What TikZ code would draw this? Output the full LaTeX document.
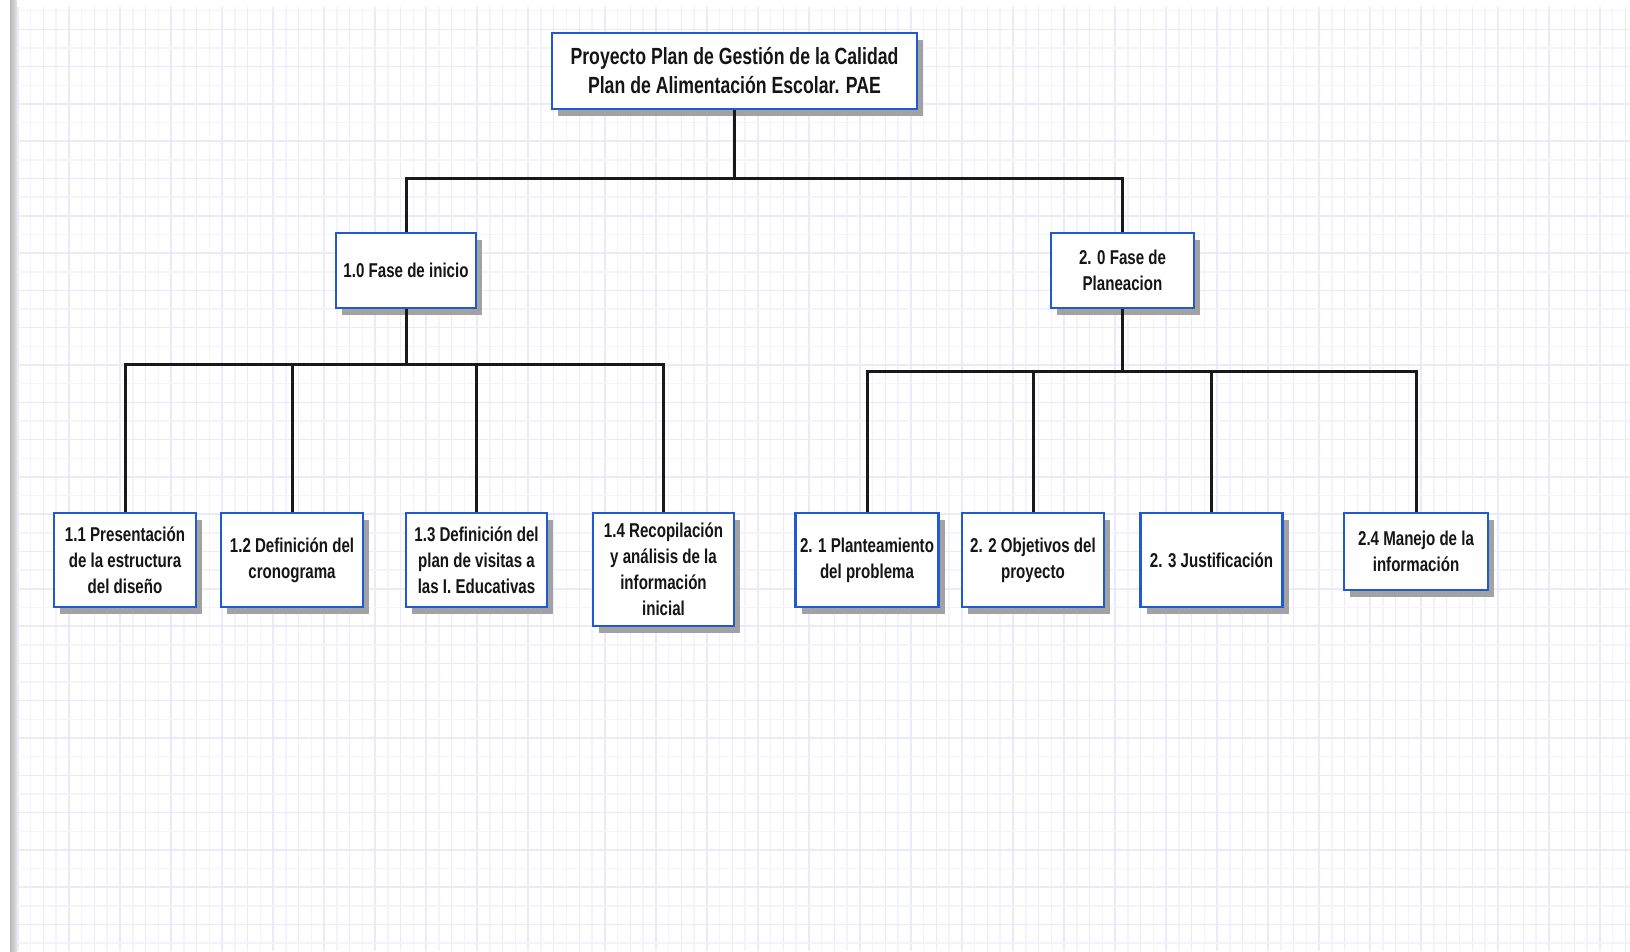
\documentclass[tikz,border=0pt]{standalone}
\usepackage{fontspec}
\usetikzlibrary{shadows}
\newfontfamily\boxfont{Liberation Sans}[FakeStretch=0.755]
\definecolor{gridA}{HTML}{F3F3FE}
\definecolor{gridB}{HTML}{EAEAFB}
\definecolor{boxblue}{HTML}{1F5AD2}
\definecolor{ink}{HTML}{151515}
\definecolor{shade}{HTML}{A2A2A2}
\tikzset{
  wbs/.style={draw=boxblue, line width=2.6pt, fill=white, align=center,
    text=ink, inner sep=2pt,
    drop shadow={shadow xshift=6pt, shadow yshift=-7pt, fill=shade, opacity=1}},
  rootbox/.style={wbs, font=\boxfont\bfseries\fontsize{23.4}{29}\selectfont},
  phasebox/.style={wbs, font=\boxfont\bfseries\fontsize{20}{26}\selectfont},
  leafbox/.style={wbs, font=\boxfont\bfseries\fontsize{20}{26}\selectfont},
  link/.style={draw=black!90, line width=3pt}
}
\begin{document}
\begin{tikzpicture}[x=1pt,y=-1pt]
% page and background grid
\fill[white] (0,0) rectangle (1630,951);
\useasboundingbox (0,0) rectangle (1630,951);
\foreach \k in {-1,...,125}{
  \pgfmathsetmacro{\xx}{30.7+12.757*\k}
  \pgfmathtruncatemacro{\odd}{mod(\k+2,2)}
  \ifnum\odd=1
    \draw[gridB, line width=1.5pt] (\xx,7) -- (\xx,951);
  \else
    \draw[gridA, line width=1.5pt] (\xx,7) -- (\xx,951);
  \fi
}
\foreach \k in {-1,...,49}{
  \pgfmathsetmacro{\yy}{29.3+18.65*\k}
  \pgfmathtruncatemacro{\odd}{mod(\k+2,2)}
  \ifnum\odd=0
    \draw[gridB, line width=1.5pt] (17,\yy) -- (1630,\yy);
  \else
    \draw[gridA, line width=1.5pt] (17,\yy) -- (1630,\yy);
  \fi
}
\shade[left color=black!28, right color=black!10] (10,0) rectangle (17,951);

% top level
\node[rootbox, minimum width=365pt, minimum height=76pt] (root) at (734.5,71)
  {Proyecto Plan de Gestión de la Calidad\\Plan de Alimentación Escolar. PAE};

% phases
\node[phasebox, minimum width=140pt, minimum height=75pt] (f1) at (406,270.5)
  {1.0 Fase de inicio};
\node[phasebox, minimum width=143pt, minimum height=75pt] (f2) at (1122.5,270.5)
  {2. 0 Fase de\\Planeacion};

% work packages of phase 1
\node[leafbox, minimum width=142pt, minimum height=94pt] (l11) at (125,560)
  {1.1 Presentación\\de la estructura\\del diseño};
\node[leafbox, minimum width=142pt, minimum height=94pt] (l12) at (292,560)
  {1.2 Definición del\\cronograma};
\node[leafbox, minimum width=141pt, minimum height=94pt] (l13) at (476.5,560)
  {1.3 Definición del\\plan de visitas a\\las I. Educativas};
\node[leafbox, minimum width=141pt, minimum height=113pt] (l14) at (663.5,569.5)
  {1.4 Recopilación\\y análisis de la\\información\\inicial};

% work packages of phase 2
\node[leafbox, minimum width=143pt, minimum height=94pt] (l21) at (867,560)
  {2. 1 Planteamiento\\del problema};
\node[leafbox, minimum width=142pt, minimum height=94pt] (l22) at (1033,560)
  {2. 2 Objetivos del\\proyecto};
\node[leafbox, minimum width=142pt, minimum height=94pt] (l23) at (1211.5,560)
  {2. 3 Justificación};
\node[leafbox, minimum width=144pt, minimum height=77pt] (l24) at (1416,551.5)
  {2.4 Manejo de la\\información};

% buses
\coordinate (b0) at (734.5,178);
\coordinate (b1) at (406,364);
\coordinate (b2) at (1122.5,371);

\draw[link] (root.south) -- (b0);
\draw[link] (f1.north) |- (b0) -| (f2.north);

\draw[link] (f1.south) -- (b1);
\draw[link] (l11.north) |- (b1) -| (l14.north);
\draw[link] (l12.north) -- (l12.north |- b1);
\draw[link] (l13.north) -- (l13.north |- b1);

\draw[link] (f2.south) -- (b2);
\draw[link] (l21.north) |- (b2) -| (l24.north);
\draw[link] (l22.north) -- (l22.north |- b2);
\draw[link] (l23.north) -- (l23.north |- b2);
\end{tikzpicture}
\end{document}
